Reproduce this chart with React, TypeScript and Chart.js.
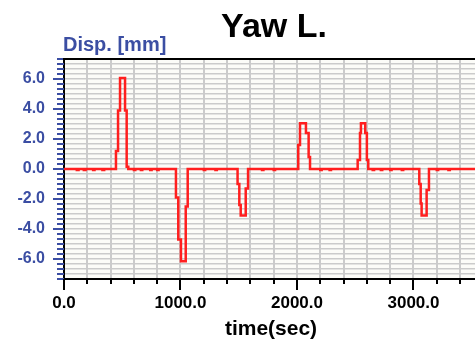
import { useEffect, useRef } from 'react';
import { Chart, registerables } from 'chart.js';

Chart.register(...registerables);

const TITLE = 'Yaw L.';
const Y_LABEL = 'Disp. [mm]';
const X_LABEL = 'time(sec)';

// change points of the stepped trace: time [s] and displacement [mm]
const timeSec = [
  0, 110, 125, 170, 185, 250, 262, 330, 345,
  446, 464, 481, 524, 538, 552,
  600, 612, 660, 672, 740, 752, 800, 812,
  961, 981, 1004, 1045, 1062,
  1200, 1212, 1300, 1312,
  1490, 1505, 1517, 1560, 1580,
  1700, 1712, 1800, 1812,
  2011, 2026, 2077, 2100, 2112,
  2200, 2212, 2280, 2292,
  2521, 2541, 2549, 2586, 2600, 2612,
  2650, 2662, 2720, 2732, 2800, 2812, 2900, 2912,
  3050, 3062, 3070, 3113, 3133,
  3200, 3212, 3300, 3312, 3554,
];
const dispMm = [
  0, -0.07, 0, -0.07, 0, -0.07, 0, -0.07, 0,
  1.2, 3.9, 6.07, 3.9, 0.15, 0,
  -0.07, 0, -0.07, 0, -0.07, 0, -0.07, 0,
  -1.9, -4.7, -6.15, -2.5, 0,
  -0.07, 0, -0.07, 0,
  -1.0, -2.4, -3.1, -1.3, 0,
  -0.07, 0, -0.07, 0,
  1.6, 3.05, 2.4, 0.8, 0,
  -0.07, 0, -0.07, 0,
  0.6, 2.4, 3.05, 2.4, 0.6, 0,
  -0.07, 0, -0.07, 0, -0.07, 0, -0.07, 0,
  -1.0, -2.3, -3.1, -1.4, 0,
  -0.07, 0, -0.07, 0, 0,
];

const X_MIN = 0;
const X_MAX = 3554;
const X_MINOR = 200;
const X_MAJOR = 1000;
const Y_THIRDS = 22; // axis spans -22/3 .. 22/3
const Y_MAJOR_THIRDS = 6; // labels every 2.0

const BLUE = '#3b4ea3';
const GRID = '#cbcbcb';
const FONT = '"Liberation Sans", Arial, sans-serif';

export default function App() {
  const ref = useRef<HTMLCanvasElement | null>(null);

  useEffect(() => {
    if (!ref.current) return;
    const points = timeSec.map((t, i) => ({ x: t, y: dispMm[i] }));

    const deco = {
      id: 'deco',
      beforeDraw(chart: any) {
        const { ctx, chartArea: a } = chart;
        ctx.save();
        ctx.fillStyle = '#fcfcf8';
        ctx.fillRect(a.left, a.top, a.right - a.left, a.bottom - a.top);
        ctx.restore();
      },
      afterDraw(chart: any) {
        const { ctx, chartArea: a } = chart;
        const ys = chart.scales.y;
        const xs = chart.scales.x;
        ctx.save();
        // y tick marks
        ctx.strokeStyle = BLUE;
        ctx.lineWidth = 2;
        ys.ticks.forEach((t: any) => {
          const py = Math.round(ys.getPixelForValue(t.value));
          const major = Math.abs(Math.round(t.value * 3)) % Y_MAJOR_THIRDS === 0;
          const len = major ? 11 : 7;
          ctx.beginPath();
          ctx.moveTo(a.left - len, py);
          ctx.lineTo(a.left, py);
          ctx.stroke();
        });
        // x tick marks
        ctx.strokeStyle = '#000';
        xs.ticks.forEach((t: any) => {
          const px = Math.round(xs.getPixelForValue(t.value));
          const major = t.value % X_MAJOR === 0;
          const len = major ? 11 : 5;
          ctx.beginPath();
          ctx.moveTo(px, a.bottom);
          ctx.lineTo(px, a.bottom + len);
          ctx.stroke();
        });
        // top border
        ctx.lineWidth = 2;
        ctx.beginPath();
        ctx.moveTo(a.left - 1, a.top);
        ctx.lineTo(a.right, a.top);
        ctx.stroke();
        // title
        ctx.fillStyle = '#000';
        ctx.font = `bold 34px ${FONT}`;
        ctx.textAlign = 'center';
        ctx.textBaseline = 'alphabetic';
        ctx.fillText(TITLE, (a.left + a.right) / 2 + 3, 37);
        // y label
        ctx.fillStyle = BLUE;
        ctx.font = `bold 20px ${FONT}`;
        ctx.textAlign = 'left';
        ctx.fillText(Y_LABEL, a.left - 1, 51);
        ctx.restore();
      },
    };

    const chart = new Chart(ref.current, {
      type: 'line',
      data: {
        datasets: [
          {
            data: points,
            stepped: true,
            borderColor: '#ff1f1f',
            borderWidth: 2.5,
            pointRadius: 0,
            fill: false,
          },
        ],
      },
      options: {
        animation: false,
        responsive: false,
        events: [],
        layout: { padding: { top: 59, right: 2, bottom: 0, left: 0 } },
        plugins: { legend: { display: false }, tooltip: { enabled: false }, title: { display: false } },
        scales: {
          x: {
            type: 'linear',
            min: X_MIN,
            max: X_MAX,
            afterBuildTicks: (scale: any) => {
              const ticks = [];
              for (let v = X_MIN; v <= X_MAX; v += X_MINOR) ticks.push({ value: v });
              scale.ticks = ticks;
            },
            afterFit: (scale: any) => {
              scale.height = 64;
            },
            ticks: {
              autoSkip: false,
              maxRotation: 0,
              padding: 14,
              color: '#000',
              font: { family: FONT, size: 17, weight: 'bold' },
              callback: (v: any) => (Number(v) % X_MAJOR === 0 ? Number(v).toFixed(1) : ''),
            },
            grid: { color: GRID, lineWidth: 2, drawTicks: false },
            border: { display: true, color: '#000', width: 2 },
            title: {
              display: true,
              text: X_LABEL,
              color: '#000',
              font: { family: FONT, size: 21, weight: 'bold' },
              padding: { top: 0, bottom: 1 },
            },
          },
          y: {
            type: 'linear',
            min: -Y_THIRDS / 3,
            max: Y_THIRDS / 3,
            afterBuildTicks: (scale: any) => {
              const ticks = [];
              for (let i = -Y_THIRDS; i <= Y_THIRDS; i++) ticks.push({ value: i / 3 });
              scale.ticks = ticks;
            },
            afterFit: (scale: any) => {
              scale.width = 64;
            },
            ticks: {
              autoSkip: false,
              padding: 19,
              color: BLUE,
              font: { family: FONT, size: 16, weight: 'bold' },
              callback: (v: any) => {
                const k = Math.round(Number(v) * 3);
                return k % Y_MAJOR_THIRDS === 0 ? (k / 3).toFixed(1) : '';
              },
            },
            grid: { color: GRID, lineWidth: 1.5, drawTicks: false },
            border: { display: true, color: '#000', width: 2 },
          },
        },
      },
      plugins: [deco],
    } as any);

    return () => chart.destroy();
  }, []);

  return (
    <div
      style={{
        position: 'fixed',
        left: 0,
        top: 0,
        width: 475,
        height: 343,
        overflow: 'hidden',
        background: '#fff',
      }}
    >
      <canvas ref={ref} width={480} height={343} style={{ display: 'block' }} />
    </div>
  );
}
